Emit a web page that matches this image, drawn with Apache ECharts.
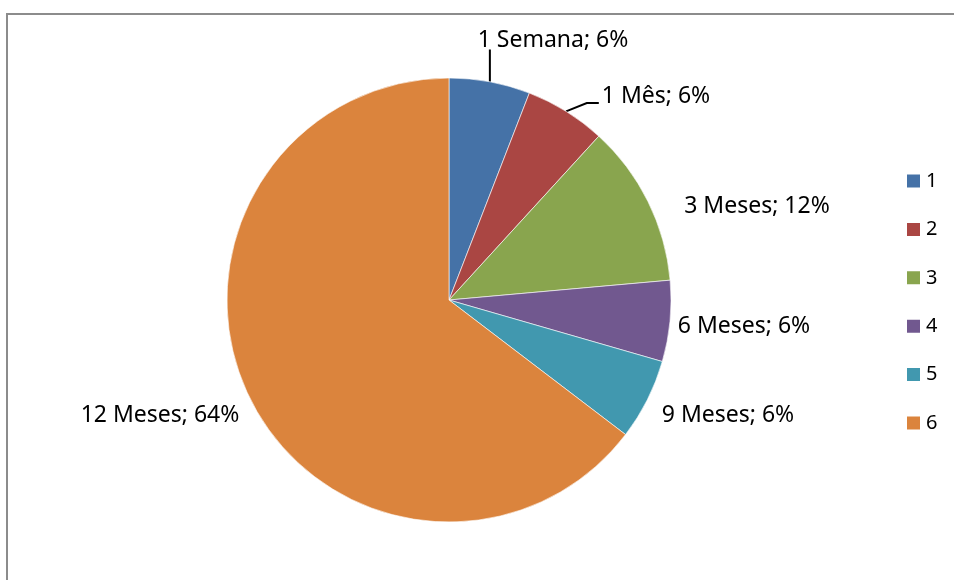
<!DOCTYPE html>
<html>
<head>
<meta charset="utf-8">
<script src="https://cdn.jsdelivr.net/npm/echarts@6/dist/echarts.min.js"></script>
<style>
html,body{margin:0;padding:0;background:#fff;}
#chart{width:954px;height:580px;}
</style>
</head>
<body>
<div id="chart"></div>
<script>
// Data
var categories = ['1 Semana', '1 Mês', '3 Meses', '6 Meses', '9 Meses', '12 Meses'];
var legendNames = ['1', '2', '3', '4', '5', '6'];
var values = [5.9, 5.9, 11.8, 5.9, 5.9, 64.7];
var colors = ['#4572A7', '#AA4643', '#89A54E', '#71588F', '#4198AF', '#DB843D'];

// Label placement (layout, not data)
var labelPos = [[553, 40], [656, 96], [757, 206], [744, 326], [728, 415], [160, 415]];
var showLine = [true, true, false, false, false, false];

var chart = echarts.init(document.getElementById('chart'), null, {renderer: 'canvas'});

var seriesData = values.map(function (v, i) {
  return {
    value: v,
    name: legendNames[i],
    label: {formatter: categories[i] + '; {d}%'},
    labelLine: {show: showLine[i]},
    itemStyle: {color: colors[i]}
  };
});

var FONT = '"Noto Sans", sans-serif';

chart.setOption({
  animation: false,
  backgroundColor: '#fff',
  legend: {
    orient: 'vertical',
    left: 900,
    top: 166,
    itemWidth: 15,
    itemHeight: 15,
    itemGap: 28.4,
    icon: 'rect',
    textStyle: {fontFamily: FONT, fontSize: 20, color: '#000', lineHeight: 20},
    data: legendNames
  },
  graphic: [
    {type: 'line', shape: {x1: 6, y1: 14, x2: 954, y2: 14}, style: {stroke: '#8c8c8c', lineWidth: 2}},
    {type: 'line', shape: {x1: 7, y1: 13, x2: 7, y2: 580}, style: {stroke: '#8c8c8c', lineWidth: 2}}
  ],
  series: [{
    type: 'pie',
    center: [449, 300],
    radius: [0, 222],
    startAngle: 90,
    clockwise: true,
    percentPrecision: 0,
    avoidLabelOverlap: false,
    itemStyle: {borderColor: '#fff', borderWidth: 0.6},
    label: {
      show: true,
      position: 'outside',
      fontFamily: FONT,
      fontSize: 23,
      color: '#000'
    },
    labelLine: {
      length: 10,
      length2: 10,
      lineStyle: {color: '#000', width: 2}
    },
    labelLayout: function (params) {
      var i = params.dataIndex;
      var p = labelPos[i];
      var res = {x: p[0], y: p[1], align: 'center', verticalAlign: 'middle'};
      if (showLine[i] && params.labelLinePoints) {
        var s = params.labelLinePoints[0];
        var w = params.labelRect.width, h = params.labelRect.height;
        if (i === 0) {
          res.labelLinePoints = [[s[0], s[1]], [s[0], p[1] + h / 2 - 2], [s[0], p[1] + h / 2 - 2]];
        } else {
          var ex = p[0] - w / 2 - 3;
          res.labelLinePoints = [[s[0], s[1]], [ex - 12, p[1] + 7], [ex, p[1] + 7]];
        }
      }
      return res;
    },
    emphasis: {disabled: true},
    data: seriesData
  }]
});
</script>
</body>
</html>
